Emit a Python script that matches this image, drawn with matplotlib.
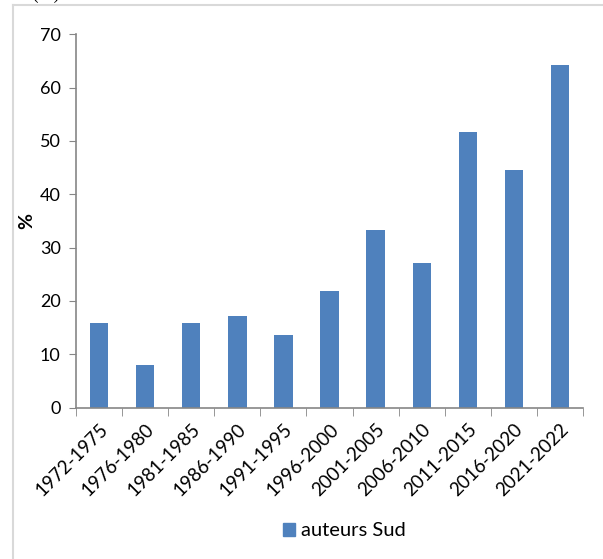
import numpy as np
import matplotlib.pyplot as plt
from matplotlib.lines import Line2D
from matplotlib.patches import Patch

plt.rcParams['font.family'] = ['Lato', 'DejaVu Sans']

periodes = ['1972-1975', '1976-1980', '1981-1985', '1986-1990', '1991-1995',
            '1996-2000', '2001-2005', '2006-2010', '2011-2015', '2016-2020',
            '2021-2022']
auteurs_sud = [15.8, 8.0, 15.8, 17.1, 13.7, 21.8, 33.3, 27.1, 51.6, 44.6, 64.3]
y_ticks = [0, 10, 20, 30, 40, 50, 60, 70]

bleu = '#4F81BD'
gris = '#868686'

fig = plt.figure(figsize=(6.03, 5.59), dpi=100)
ax = fig.add_axes([0.126, 0.2707, 0.841, 0.668])

x = np.arange(len(periodes))
ax.bar(x, auteurs_sud, width=0.4, color=bleu, zorder=2)

ax.set_xlim(-0.5, len(periodes) - 0.5)
ax.set_ylim(0, 70)
ax.set_yticks(y_ticks)
ax.tick_params(axis='y', direction='out', length=5, color=gris, labelsize=13, pad=6)

# category labels centred on bars, tick marks between categories
ax.set_xticks(x)
ax.set_xticklabels(periodes, rotation=45, ha='right', rotation_mode='anchor', fontsize=13.5)
ax.tick_params(axis='x', length=0, pad=9)
ax.set_xticks(np.arange(len(periodes) + 1) - 0.5, minor=True)
ax.tick_params(axis='x', which='minor', direction='out', length=6, color=gris)

for s in ['top', 'right']:
    ax.spines[s].set_visible(False)
for s in ['left', 'bottom']:
    ax.spines[s].set_color(gris)
    ax.spines[s].set_linewidth(1.2)

ax.set_ylabel('%', fontsize=14, fontweight='bold')
ax.yaxis.set_label_coords(-0.08, 0.5)

ax.legend(handles=[Patch(color=bleu, label='auteurs Sud')], loc='center',
          bbox_to_anchor=(0.53, -0.33), frameon=False, fontsize=14.5,
          handlelength=0.6, handleheight=0.6, handletextpad=0.3)

# chart frame (only top and left edges visible)
frame_c = '#d9d9d9'
fig.add_artist(Line2D([13 / 603, 1], [1 - 5 / 559, 1 - 5 / 559], color=frame_c, lw=1.5))
fig.add_artist(Line2D([13 / 603, 13 / 603], [0, 1 - 5 / 559], color=frame_c, lw=1.5))

fig.text(0.0, 1 - 3 / 559, 'Sud (%)', family='Liberation Serif', fontsize=13,
         va='bottom', ha='left')

fig.savefig('out.png', dpi=100)
